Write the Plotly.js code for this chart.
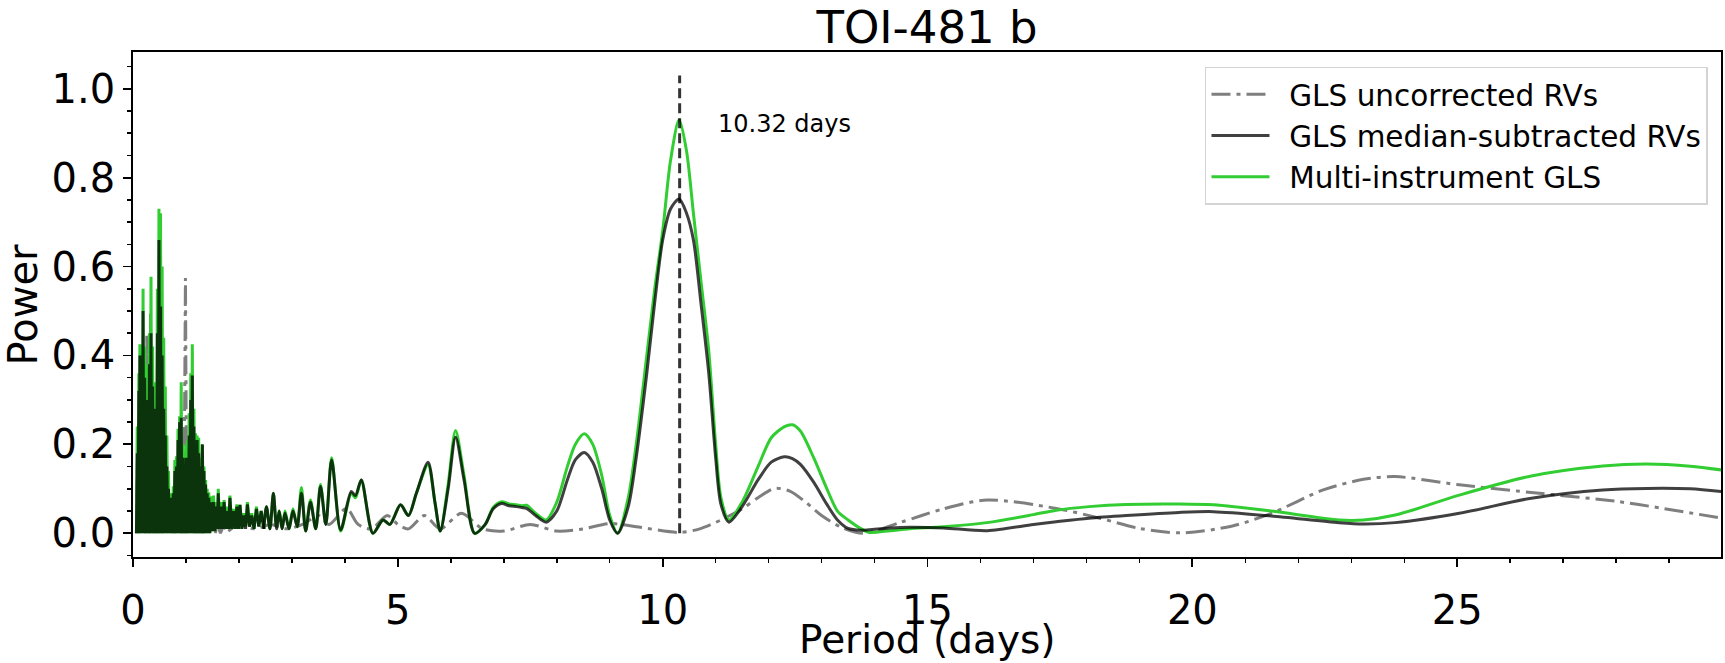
<!DOCTYPE html>
<html>
<head>
<meta charset="utf-8">
<script src="https://cdn.plot.ly/plotly-3.0.1.min.js"></script>
<style>
  html, body { margin: 0; padding: 0; background: #fff; }
  #plot { width: 1725px; height: 663px; }
</style>
</head>
<body>
<div id="plot"></div>
<script>
// GLS periodograms of TOI-481 RVs

// uncorrected RVs (dash-dot grey)
var uncorrectedPeriod = [
  0.065, 0.09, 0.11, 0.13, 0.15, 0.17, 0.19, 0.21, 0.235, 0.26,
  0.28, 0.30, 0.315, 0.33, 0.35, 0.37, 0.39, 0.41, 0.43, 0.45,
  0.47, 0.49, 0.51, 0.53, 0.55, 0.57, 0.59, 0.61, 0.63, 0.65,
  0.67, 0.69, 0.71, 0.73, 0.75, 0.77, 0.79, 0.81, 0.83, 0.85,
  0.87, 0.89, 0.91, 0.93, 0.96, 0.99, 1.015, 1.04, 1.065, 1.09,
  1.115, 1.14, 1.165, 1.19, 1.215, 1.24, 1.265, 1.29, 1.32, 1.35,
  1.385, 1.42, 1.46, 1.50, 1.55, 1.60, 1.65, 1.70, 1.80, 2.00,
  2.30, 2.60, 2.90, 3.20, 3.50, 3.70, 4.03, 4.25, 4.50, 4.80,
  5.00, 5.20, 5.50, 5.80, 6.20, 6.60, 7.00, 7.50, 8.00, 8.50,
  9.00, 9.50, 10.30, 10.70, 11.10, 11.50, 11.80, 12.11, 12.40, 12.70,
  13.00, 13.40, 13.80, 14.50, 15.30, 16.13, 17.43, 18.25, 19.00, 19.78,
  20.74, 21.49, 22.47, 23.23, 23.83, 25.04, 26.55, 28.06, 29.99
];
var uncorrectedPower = [
  0, 0.20, 0, 0.30, 0, 0.35, 0, 0.30, 0, 0.45,
  0, 0.30, 0, 0.50, 0, 0.25, 0, 0.20, 0, 0.30,
  0, 0.35, 0, 0.30, 0, 0.20, 0, 0.12, 0, 0.08,
  0, 0.05, 0, 0.05, 0, 0.07, 0, 0.10, 0, 0.12,
  0, 0.15, 0, 0.20, 0, 0.574, 0, 0.15, 0, 0.12,
  0, 0.15, 0, 0.10, 0, 0.12, 0, 0.08, 0, 0.06,
  0, 0.04, 0, 0.03, 0, 0.02, 0, 0.015, 0.005, 0.02,
  0.01, 0.02, 0.01, 0.02, 0.04, 0.02, 0.056, 0.02, 0.01, 0.04,
  0.02, 0.01, 0.04, 0.01, 0.045, 0.01, 0.005, 0.02, 0.005, 0.01,
  0.022, 0.015, 0.002, 0.01, 0.03, 0.055, 0.08, 0.101, 0.095, 0.07,
  0.04, 0.012, 0, 0.025, 0.055, 0.075, 0.056, 0.034, 0.011, 0.001,
  0.016, 0.045, 0.0975, 0.1215, 0.1275, 0.109, 0.09, 0.071, 0.034
];

// median-subtracted and multi-instrument periodograms share one period grid
var gridPeriod = [
  0.065, 0.08, 0.095, 0.11, 0.12, 0.13, 0.145, 0.16, 0.175, 0.19,
  0.205, 0.22, 0.235, 0.25, 0.265, 0.28, 0.295, 0.31, 0.325, 0.34,
  0.355, 0.37, 0.385, 0.40, 0.415, 0.43, 0.445, 0.46, 0.475, 0.49,
  0.505, 0.52, 0.535, 0.55, 0.565, 0.58, 0.595, 0.61, 0.625, 0.64,
  0.655, 0.67, 0.685, 0.70, 0.715, 0.73, 0.745, 0.76, 0.775, 0.79,
  0.805, 0.82, 0.835, 0.85, 0.865, 0.88, 0.895, 0.91, 0.925, 0.94,
  0.955, 0.97, 0.985, 1.00, 1.015, 1.03, 1.045, 1.06, 1.075, 1.09,
  1.105, 1.12, 1.135, 1.15, 1.165, 1.18, 1.195, 1.21, 1.225, 1.24,
  1.255, 1.27, 1.29, 1.31, 1.325, 1.34, 1.355, 1.37, 1.385, 1.40,
  1.415, 1.43, 1.45, 1.47, 1.495, 1.52, 1.545, 1.57, 1.59, 1.61,
  1.635, 1.66, 1.69, 1.72, 1.75, 1.78, 1.805, 1.83, 1.865, 1.90,
  1.93, 1.96, 1.99, 2.02, 2.055, 2.09, 2.125, 2.16, 2.20, 2.24,
  2.285, 2.33, 2.375, 2.42, 2.47, 2.52, 2.585, 2.65, 2.71, 2.76,
  2.815, 2.87, 2.945, 3.02, 3.10, 3.18, 3.26, 3.35, 3.45, 3.54,
  3.64, 3.75, 3.92, 4.12, 4.20, 4.31, 4.53, 4.72, 4.85, 5.05,
  5.20, 5.35, 5.57, 5.70, 5.80, 5.95, 6.09, 6.25, 6.45, 6.65,
  6.80, 6.96, 7.10, 7.24, 7.34, 7.43, 7.60, 7.80, 8.00, 8.20,
  8.35, 8.52, 8.68, 8.85, 9.00, 9.15, 9.35, 9.50, 9.70, 9.85,
  10.00, 10.15, 10.31, 10.45, 10.58, 10.72, 10.87, 11.00, 11.10, 11.25,
  11.50, 11.80, 12.05, 12.30, 12.45, 12.60, 12.85, 13.10, 13.30, 13.50,
  13.75, 13.90, 14.30, 14.66, 15.30, 16.13, 17.00, 17.43, 18.05, 18.75,
  19.75, 20.40, 21.49, 22.77, 23.23, 23.83, 25.04, 26.40, 27.75, 28.58,
  29.40, 29.99
];
var medianPower = [
  0, 0.18, 0, 0.32, 0, 0.40, 0, 0.30, 0, 0.50,
  0, 0.35, 0, 0.30, 0, 0.25, 0, 0.38, 0, 0.45,
  0, 0.33, 0, 0.28, 0, 0.20, 0, 0.45, 0, 0.66,
  0, 0.51, 0, 0.40, 0, 0.28, 0, 0.22, 0, 0.15,
  0, 0.10, 0, 0.07, 0, 0.08, 0, 0.09, 0, 0.14,
  0, 0.15, 0, 0.21, 0, 0.25, 0, 0.26, 0, 0.17,
  0, 0.12, 0, 0.17, 0, 0.15, 0, 0.22, 0, 0.30,
  0, 0.355, 0, 0.24, 0, 0.20, 0, 0.21, 0, 0.18,
  0, 0.15, 0, 0.20, 0, 0.14, 0, 0.11, 0, 0.09,
  0, 0.08, 0, 0.07, 0.005, 0.07, 0.005, 0.06, 0.01, 0.09,
  0.01, 0.06, 0.01, 0.07, 0.01, 0.05, 0.01, 0.08, 0.01, 0.05,
  0.01, 0.06, 0.01, 0.064, 0.01, 0.04, 0.01, 0.065, 0.015, 0.04,
  0.01, 0.055, 0.015, 0.05, 0.01, 0.06, 0.01, 0.09, 0.01, 0.05,
  0.01, 0.045, 0.01, 0.05, 0.015, 0.09, 0.005, 0.07, 0.01, 0.105,
  0.02, 0.165, 0.0075, 0.094, 0.085, 0.12, 0, 0.03, 0.02, 0.064,
  0.04, 0.09, 0.16, 0.07, 0.005, 0.10, 0.216, 0.12, 0, 0.02,
  0.055, 0.067, 0.062, 0.06, 0.058, 0.056, 0.04, 0.025, 0.05, 0.12,
  0.165, 0.182, 0.16, 0.10, 0.03, 0, 0.06, 0.17, 0.36, 0.52,
  0.66, 0.73, 0.752, 0.72, 0.66, 0.52, 0.36, 0.17, 0.065, 0.025,
  0.06, 0.12, 0.16, 0.172, 0.168, 0.155, 0.115, 0.065, 0.03, 0.011,
  0.007, 0.008, 0.012, 0.0135, 0.012, 0.006, 0.02, 0.026, 0.034, 0.04,
  0.047, 0.0487, 0.039, 0.024, 0.021, 0.024, 0.045, 0.079, 0.0975, 0.101,
  0.10, 0.0937
];
var multiPower = [
  0, 0.24, 0, 0.36, 0, 0.425, 0, 0.35, 0, 0.55,
  0, 0.42, 0, 0.38, 0, 0.33, 0, 0.45, 0, 0.577,
  0, 0.42, 0, 0.34, 0, 0.28, 0, 0.55, 0, 0.73,
  0, 0.72, 0, 0.60, 0, 0.44, 0, 0.33, 0, 0.22,
  0, 0.14, 0, 0.087, 0, 0.09, 0, 0.106, 0, 0.165,
  0, 0.173, 0, 0.235, 0, 0.263, 0, 0.34, 0, 0.20,
  0, 0.14, 0, 0.20, 0, 0.21, 0, 0.27, 0, 0.36,
  0, 0.425, 0, 0.28, 0, 0.225, 0, 0.22, 0, 0.215,
  0, 0.17, 0, 0.20, 0, 0.15, 0, 0.12, 0, 0.10,
  0, 0.092, 0, 0.083, 0.005, 0.085, 0.005, 0.07, 0.01, 0.10,
  0.01, 0.07, 0.01, 0.075, 0.01, 0.06, 0.01, 0.085, 0.01, 0.055,
  0.01, 0.065, 0.01, 0.064, 0.01, 0.045, 0.015, 0.07, 0.015, 0.045,
  0.01, 0.06, 0.015, 0.05, 0.01, 0.06, 0.01, 0.09, 0.015, 0.05,
  0.01, 0.05, 0.01, 0.055, 0.015, 0.103, 0.005, 0.075, 0.01, 0.11,
  0.02, 0.17, 0.005, 0.09, 0.08, 0.12, 0, 0.03, 0.02, 0.064,
  0.04, 0.09, 0.154, 0.07, 0.005, 0.11, 0.231, 0.13, 0, 0.02,
  0.058, 0.071, 0.066, 0.064, 0.062, 0.063, 0.045, 0.03, 0.07, 0.15,
  0.20, 0.224, 0.20, 0.13, 0.04, 0, 0.08, 0.20, 0.40, 0.55,
  0.68, 0.84, 0.93, 0.86, 0.72, 0.57, 0.41, 0.20, 0.08, 0.03,
  0.07, 0.15, 0.215, 0.24, 0.244, 0.23, 0.17, 0.10, 0.05, 0.03,
  0.01, 0.002, 0.006, 0.01, 0.015, 0.024, 0.042, 0.052, 0.06, 0.065,
  0.066, 0.064, 0.05, 0.03, 0.03, 0.041, 0.086, 0.129, 0.1515, 0.156,
  0.151, 0.1425
];

// detected period and the marker line
var peakPeriod = 10.32;
var peakLineY = [0, 1.03];

var xTickVals = [0, 5, 10, 15, 20, 25];
var yTickVals = [0, 0.2, 0.4, 0.6, 0.8, 1.0];
var yTickText = ['0.0', '0.2', '0.4', '0.6', '0.8', '1.0'];

// short-period forest is drawn straight, the rest smoothed
var gridSplit = 2.47;
var uncorrectedSplit = 1.80;

var FONT = 'DejaVu Sans, Verdana, sans-serif';
var GAP = '\u2002'; // en space between legend line and label

function part(xs, ys, keep) {
  var px = [], py = [];
  for (var i = 0; i < xs.length; i++) {
    if (keep(xs[i])) { px.push(xs[i]); py.push(ys[i]); }
  }
  return {x: px, y: py};
}

// one series as two traces (straight forest + smooth tail) sharing a legend entry
function series(xs, ys, split, name, line, group, rank) {
  var a = part(xs, ys, function (p) { return p <= split; });
  var b = part(xs, ys, function (p) { return p >= split; });
  return [
    {x: a.x, y: a.y, type: 'scatter', mode: 'lines', name: GAP + name,
     line: Object.assign({shape: 'linear'}, line),
     legendgroup: group, legendrank: rank, showlegend: true, hoverinfo: 'skip'},
    {x: b.x, y: b.y, type: 'scatter', mode: 'lines', name: GAP + name,
     line: Object.assign({shape: 'spline', smoothing: 0.8}, line),
     legendgroup: group, legendrank: rank, showlegend: false, hoverinfo: 'skip'}
  ];
}

var uncorrected = series(uncorrectedPeriod, uncorrectedPower, uncorrectedSplit,
  'GLS uncorrected RVs', {color: 'rgba(0,0,0,0.5)', width: 3, dash: '19px,6px,4px,6px'}, 'a', 1);
var multi = series(gridPeriod, multiPower, gridSplit,
  'Multi-instrument GLS', {color: 'limegreen', width: 3}, 'c', 3);
var median = series(gridPeriod, medianPower, gridSplit,
  'GLS median-subtracted RVs', {color: 'rgba(0,0,0,0.75)', width: 3}, 'b', 2);

var peakLine = {
  x: [peakPeriod, peakPeriod], y: peakLineY,
  type: 'scatter', mode: 'lines',
  line: {color: 'rgba(0,0,0,0.8)', width: 3, dash: '10px,5px'},
  showlegend: false, hoverinfo: 'skip'
};

var axisBase = {
  showgrid: false, zeroline: false,
  showline: true, linecolor: 'black', linewidth: 1.8, mirror: true,
  ticks: 'outside', ticklen: 8, tickwidth: 1.8, tickcolor: 'black',
  tickfont: {family: FONT, size: 40, color: 'black'}
};

var layout = {
  width: 1725, height: 663,
  margin: {l: 133, r: 4, t: 52, b: 106},
  paper_bgcolor: 'white', plot_bgcolor: 'white',
  font: {family: FONT, color: 'black'},
  title: {
    text: 'TOI-481 b', font: {family: FONT, size: 45, color: 'black'},
    x: 0.5, xref: 'paper', xanchor: 'center',
    y: 1 - 27 / 663, yref: 'container', yanchor: 'middle'
  },
  xaxis: Object.assign({}, axisBase, {
    range: [0, 29.98],
    tickmode: 'array', tickvals: xTickVals,
    ticklabelstandoff: 9,
    minor: {tickmode: 'linear', tick0: 0, dtick: 1, ticks: 'outside', ticklen: 4.5,
            tickwidth: 1.5, tickcolor: 'black', showgrid: false}
  }),
  yaxis: Object.assign({}, axisBase, {
    range: [-0.0533, 1.0826],
    tickmode: 'array', tickvals: yTickVals, ticktext: yTickText,
    minor: {tickmode: 'linear', tick0: 0, dtick: 0.05, ticks: 'outside', ticklen: 4.5,
            tickwidth: 1.5, tickcolor: 'black', showgrid: false}
  }),
  legend: {
    x: 0.9918, y: 0.9703, xanchor: 'right', yanchor: 'top',
    bgcolor: 'rgba(255,255,255,0.8)', bordercolor: '#d4d4d4', borderwidth: 1.5,
    font: {family: FONT, size: 29.5, color: 'black'},
    traceorder: 'grouped', tracegroupgap: 0, itemwidth: 58
  },
  annotations: [
    {
      x: peakPeriod + 0.68, y: 0.92, xref: 'x', yref: 'y',
      text: peakPeriod.toFixed(2) + ' days', showarrow: false,
      xanchor: 'left', yanchor: 'middle',
      font: {family: FONT, size: 24, color: 'black'}
    },
    // axis titles placed as text so they sit where the original has them
    {
      x: 0.5, y: -0.1624, xref: 'paper', yref: 'paper',
      text: 'Period (days)', showarrow: false,
      xanchor: 'center', yanchor: 'middle',
      font: {family: FONT, size: 39, color: 'black'}
    },
    {
      x: -0.0693, y: 0.5, xref: 'paper', yref: 'paper',
      text: 'Power', showarrow: false, textangle: -90,
      xanchor: 'center', yanchor: 'middle',
      font: {family: FONT, size: 40, color: 'black'}
    }
  ],
  showlegend: true
};

var traces = uncorrected.concat(multi, median, [peakLine]);
Plotly.newPlot('plot', traces, layout, {displayModeBar: false, staticPlot: true});
</script>
</body>
</html>
